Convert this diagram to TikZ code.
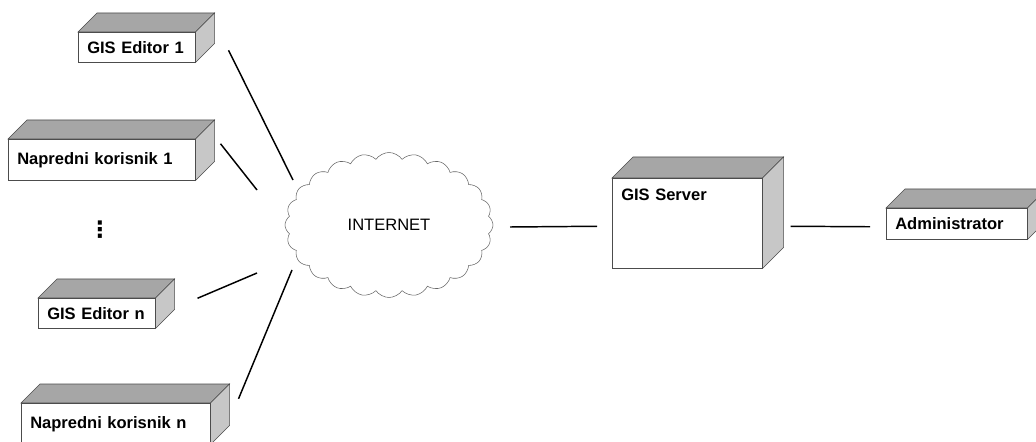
\documentclass[tikz,border=0pt]{standalone}
\usepackage{fontspec}
\setmainfont{Liberation Sans}
\newfontfamily\symfont{DejaVu Sans}
\usetikzlibrary{calc}
\usetikzlibrary{shapes.symbols}
\newlength{\pxu}
\setlength{\pxu}{0.75pt}
\newcommand{\labfont}{\fontsize{12.4}{15}\selectfont}
\tikzset{
box3d/.style={draw=black!70, fill=white, rectangle, anchor=north west,
  inner xsep=9*\pxu, inner ysep=0pt, align=left, font=\bfseries\labfont,
  append after command={\pgfextra{
    \draw[draw=black!70, fill=black!35] (\tikzlastnode.north west) -- ++(#1,-#1)
      -- ($(\tikzlastnode.north east)+(#1,-#1)$) -- (\tikzlastnode.north east) -- cycle;
    \draw[draw=black!70, fill=black!22] (\tikzlastnode.north east) -- ++(#1,-#1)
      -- ($(\tikzlastnode.south east)+(#1,-#1)$) -- (\tikzlastnode.south east) -- cycle;
  }}},
box3d/.default=19,
link/.style={line width=1.1pt},
net/.style={cloud, cloud puffs=24, cloud puff arc=110, aspect=1.43, draw=black!60,
  minimum width=208*\pxu, minimum height=145*\pxu, font=\labfont}
}

\begin{document}
\begin{tikzpicture}[x=0.75pt, y=-0.75pt]
\useasboundingbox (0,0) rectangle (1036,442);

\node[box3d, text width=99*\pxu, minimum height=30*\pxu] (ed1) at (78,32) {GIS Editor 1};
\node[box3d, text width=169*\pxu, minimum height=41*\pxu] (nk1) at (8,139) {Napredni korisnik 1};
\node[box3d, text width=99*\pxu, minimum height=30*\pxu] (edn) at (38,298) {GIS Editor n};
\node[box3d, text width=171*\pxu, minimum height=41*\pxu] (nkn) at (21,403) {Napredni korisnik n};
\node[box3d=21, text width=132*\pxu, text height=22*\pxu, text depth=68*\pxu] (server) at (612,178) {GIS Server};
\node[box3d, text width=123*\pxu, minimum height=31*\pxu] (admin) at (886,208) {Administrator};

\node[net] (inet) at (389,225) {INTERNET};
\node[font=\symfont\bfseries\fontsize{17}{17}\selectfont] (dots) at (100,230) {⋮};

% clients to the internet
\draw[link] ($(ed1.east)+(33,3)$) -- ($(inet.center)+(-96,-45)$);
\draw[link] ($(nk1.east)+(25,-16)$) -- ($(inet.center)+(-132,-35)$);
\draw[link] ($(edn.east)+(42,-15)$) -- ($(inet.center)+(-132,48)$);
\draw[link] ($(nkn.east)+(28,-25)$) -- ($(inet.center)+(-97,45)$);

% internet, server, admin
\draw[link] ($(inet.center)+(121,2)$) -- ($(server.west)+(-15,3)$);
\draw[link] ($(server.east)+(28,3)$) -- ($(admin.west)+(-16,3)$);

\end{tikzpicture}
\end{document}
